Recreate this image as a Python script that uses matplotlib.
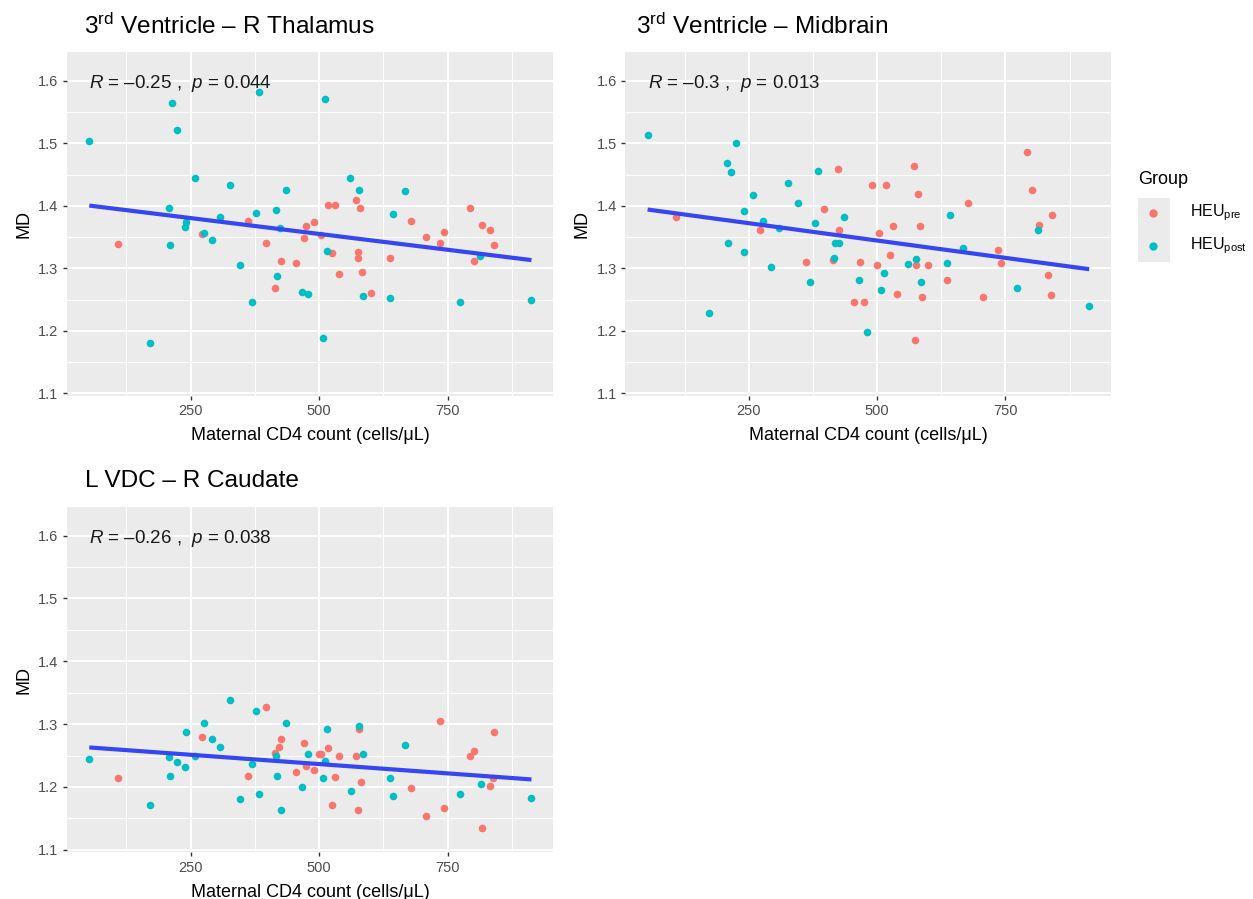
import numpy as np
import matplotlib
matplotlib.use('Agg')
import matplotlib.pyplot as plt
from matplotlib.lines import Line2D
from matplotlib.patches import Rectangle

plt.rcParams['font.family'] = ['Liberation Sans', 'DejaVu Sans']
plt.rcParams['mathtext.fontset'] = 'custom'
plt.rcParams['mathtext.rm'] = 'Liberation Sans'
plt.rcParams['mathtext.it'] = 'Liberation Sans:italic'

# ---------------- data ----------------
groups = ['pre', 'post']
group_colors = ['#F8766D', '#00BFC4']
group_labels = [r'HEU$_{\mathrm{pre}}$', r'HEU$_{\mathrm{post}}$']

# Panel A: 3rd Ventricle - R Thalamus
thal_x = [53, 214, 224, 383, 258, 326, 435, 208, 109, 210, 241, 240, 272, 277, 292, 308,
          346, 370, 172, 361, 378, 396, 417, 424, 425, 418, 415, 455, 467, 479, 474, 470,
          512, 491, 503, 517, 531, 561, 572, 578, 580, 515, 526, 575, 576, 584, 539, 585,
          600, 637, 637, 643, 668, 679, 707, 736, 743, 774, 793, 816, 832, 841, 801, 813,
          913, 507]
thal_y = [1.504, 1.564, 1.521, 1.582, 1.445, 1.434, 1.426, 1.397, 1.339, 1.337, 1.374, 1.367,
          1.355, 1.356, 1.346, 1.382, 1.305, 1.247, 1.180, 1.375, 1.389, 1.341, 1.393, 1.365,
          1.312, 1.288, 1.269, 1.308, 1.263, 1.259, 1.368, 1.348, 1.571, 1.374, 1.353, 1.401,
          1.401, 1.445, 1.409, 1.425, 1.396, 1.328, 1.325, 1.327, 1.316, 1.295, 1.291, 1.256,
          1.261, 1.253, 1.316, 1.387, 1.423, 1.376, 1.351, 1.340, 1.358, 1.246, 1.397, 1.370,
          1.362, 1.338, 1.312, 1.320, 1.250, 1.188]
thal_g = ['post', 'post', 'post', 'post', 'post', 'post', 'post', 'post', 'pre', 'post', 'post', 'post',
          'pre', 'post', 'post', 'post', 'post', 'post', 'post', 'pre', 'post', 'pre', 'post', 'post',
          'pre', 'post', 'pre', 'pre', 'post', 'post', 'pre', 'pre', 'post', 'pre', 'pre', 'pre',
          'pre', 'post', 'pre', 'post', 'pre', 'post', 'pre', 'pre', 'pre', 'pre', 'pre', 'post',
          'pre', 'post', 'pre', 'post', 'post', 'pre', 'pre', 'pre', 'pre', 'post', 'pre', 'pre',
          'pre', 'pre', 'pre', 'post', 'post', 'post']

# Panel B: 3rd Ventricle - Midbrain
mid_x = [53, 109, 172, 208, 215, 225, 210, 241, 240, 258, 272, 278, 293, 308, 327, 346,
         361, 370, 379, 384, 396, 414, 417, 418, 425, 423, 425, 435, 455, 466, 465, 474,
         480, 491, 518, 503, 500, 507, 514, 531, 525, 539, 560, 572, 576, 575, 579, 583,
         585, 587, 574, 600, 637, 637, 642, 668, 677, 707, 735, 742, 773, 792, 801, 816,
         814, 840, 833, 839, 913]
mid_y = [1.513, 1.382, 1.229, 1.468, 1.454, 1.501, 1.341, 1.391, 1.327, 1.418, 1.362, 1.376,
         1.302, 1.364, 1.436, 1.404, 1.311, 1.278, 1.373, 1.456, 1.395, 1.314, 1.316, 1.341,
         1.341, 1.459, 1.361, 1.382, 1.247, 1.310, 1.282, 1.247, 1.198, 1.434, 1.434, 1.356,
         1.306, 1.265, 1.293, 1.368, 1.322, 1.259, 1.307, 1.463, 1.315, 1.306, 1.419, 1.368,
         1.278, 1.255, 1.186, 1.305, 1.309, 1.282, 1.386, 1.332, 1.404, 1.254, 1.330, 1.309,
         1.268, 1.486, 1.425, 1.369, 1.362, 1.385, 1.289, 1.257, 1.240]
mid_g = ['post', 'pre', 'post', 'post', 'post', 'post', 'post', 'post', 'post', 'post', 'pre', 'post',
         'post', 'post', 'post', 'post', 'pre', 'post', 'post', 'post', 'pre', 'pre', 'post', 'post',
         'post', 'pre', 'pre', 'post', 'pre', 'pre', 'post', 'pre', 'post', 'pre', 'pre', 'pre',
         'pre', 'post', 'post', 'pre', 'pre', 'pre', 'post', 'pre', 'post', 'pre', 'pre', 'pre',
         'post', 'pre', 'pre', 'pre', 'post', 'pre', 'post', 'post', 'pre', 'pre', 'pre', 'pre',
         'post', 'pre', 'pre', 'pre', 'post', 'pre', 'pre', 'pre', 'post']

# Panel C: L VDC - R Caudate
caud_x = [53, 109, 172, 208, 210, 224, 240, 241, 258, 272, 277, 292, 308, 326, 346, 361,
          370, 378, 384, 396, 414, 417, 418, 422, 425, 425, 435, 455, 467, 470, 474, 479,
          491, 500, 504, 507, 512, 515, 518, 526, 531, 539, 562, 572, 575, 577, 578, 581,
          585, 638, 643, 668, 679, 707, 736, 743, 774, 793, 801, 816, 815, 832, 839, 841,
          913]
caud_y = [1.244, 1.214, 1.172, 1.248, 1.218, 1.240, 1.231, 1.287, 1.249, 1.279, 1.302, 1.277,
          1.264, 1.339, 1.181, 1.218, 1.236, 1.321, 1.189, 1.327, 1.254, 1.250, 1.218, 1.264,
          1.277, 1.163, 1.302, 1.224, 1.200, 1.270, 1.233, 1.252, 1.227, 1.252, 1.252, 1.214,
          1.241, 1.292, 1.262, 1.172, 1.216, 1.250, 1.193, 1.250, 1.163, 1.293, 1.297, 1.208,
          1.253, 1.214, 1.185, 1.266, 1.199, 1.153, 1.305, 1.167, 1.188, 1.249, 1.258, 1.134,
          1.205, 1.202, 1.215, 1.288, 1.182]
caud_g = ['post', 'pre', 'post', 'post', 'post', 'post', 'post', 'post', 'post', 'pre', 'post', 'post',
          'post', 'post', 'post', 'pre', 'post', 'post', 'post', 'pre', 'pre', 'post', 'post', 'pre',
          'pre', 'post', 'post', 'pre', 'post', 'pre', 'pre', 'post', 'pre', 'pre', 'pre', 'post',
          'post', 'post', 'pre', 'pre', 'pre', 'pre', 'post', 'pre', 'pre', 'pre', 'post', 'pre',
          'post', 'post', 'post', 'post', 'pre', 'pre', 'pre', 'pre', 'post', 'pre', 'pre', 'pre',
          'post', 'pre', 'pre', 'pre', 'post']

titles = ['3$^{\\mathrm{rd}}$ Ventricle \u2013 R Thalamus',
          '3$^{\\mathrm{rd}}$ Ventricle \u2013 Midbrain',
          'L VDC \u2013 R Caudate']
stats_text = ['$R$ = \u20130.25 ,  $p$ = 0.044',
              '$R$ = \u20130.3 ,  $p$ = 0.013',
              '$R$ = \u20130.26 ,  $p$ = 0.038']

x_major = [250, 500, 750]
x_minor = [125, 375, 625, 875]
y_major = [1.1, 1.2, 1.3, 1.4, 1.5, 1.6]
y_minor = [1.15, 1.25, 1.35, 1.45, 1.55]

# ---------------- figure ----------------
W, H = 1253, 899
fig = plt.figure(figsize=(W / 100, H / 100), dpi=100)


def rect_px(l, t, r, b):
    return [l / W, 1 - b / H, (r - l) / W, (b - t) / H]


def draw_panel(rect, xs, ys, gs, stat):
    ax = fig.add_axes(rect)
    ax.set_facecolor('#EBEBEB')
    xs = np.asarray(xs, float)
    ys = np.asarray(ys, float)
    gs = np.asarray(gs)
    for g, c in zip(groups, group_colors):
        m = gs == g
        ax.scatter(xs[m], ys[m], s=30, color=c, linewidths=0, zorder=3)
    coef = np.polyfit(xs, ys, 1)
    xx = np.array([xs.min(), xs.max()])
    ax.plot(xx, np.polyval(coef, xx), color='#3646F2', lw=3, zorder=4,
            solid_capstyle='butt')
    ax.set_xlim(9, 955.5)
    ax.set_ylim(1.096, 1.646)
    ax.set_xticks(x_major)
    ax.set_xticks(x_minor, minor=True)
    ax.set_yticks(y_major)
    ax.set_yticks(y_minor, minor=True)
    ax.set_yticklabels([f'{v:.1f}' for v in y_major])
    ax.grid(which='major', color='white', lw=1.4)
    ax.grid(which='minor', color='white', lw=0.7)
    ax.set_axisbelow(True)
    for s in ax.spines.values():
        s.set_visible(False)
    ax.tick_params(which='major', length=3, width=1, color='#333333',
                   labelcolor='#4D4D4D', labelsize=10.5, pad=3)
    ax.tick_params(which='minor', length=0)
    ax.set_xlabel('Maternal CD4 count (cells/\u03bcL)', fontsize=13, labelpad=6.5)
    ax.set_ylabel('MD', fontsize=13, labelpad=4)
    ax.text(53, 1.595, stat, fontsize=13.5, ha='left', va='center', color='#1a1a1a')
    return ax


axA = draw_panel(rect_px(66.7, 52, 553.3, 396), thal_x, thal_y, thal_g, stats_text[0])
axB = draw_panel(rect_px(625, 52, 1111, 396), mid_x, mid_y, mid_g, stats_text[1])
axC = draw_panel(rect_px(66.7, 506.7, 553.3, 852.3), caud_x, caud_y, caud_g, stats_text[2])

# panel titles
fig.text(84 / W, 1 - 26 / H, titles[0], fontsize=17.6, ha='left', va='center')
fig.text(636 / W, 1 - 26 / H, titles[1], fontsize=17.6, ha='left', va='center')
fig.text(85 / W, 1 - 481 / H, titles[2], fontsize=17.6, ha='left', va='center')

# legend
fig.text(1138 / W, 1 - 180 / H, 'Group', fontsize=13, ha='left', va='center')
fig.patches.append(Rectangle((1138 / W, 1 - 262 / H), 32 / W, 64 / H,
                             transform=fig.transFigure, facecolor='#EBEBEB',
                             edgecolor='none', zorder=1))
for i, (c, lab) in enumerate(zip(group_colors, group_labels)):
    yk = 1 - (213 + 33 * i) / H
    fig.add_artist(Line2D([1153 / W], [yk], marker='o', markersize=6, color=c,
                          markeredgewidth=0, linestyle='none',
                          transform=fig.transFigure, zorder=2))
    fig.text(1190 / W, yk, lab, fontsize=11.5, ha='left', va='center')

fig.savefig('out.png', dpi=100, facecolor='white')
